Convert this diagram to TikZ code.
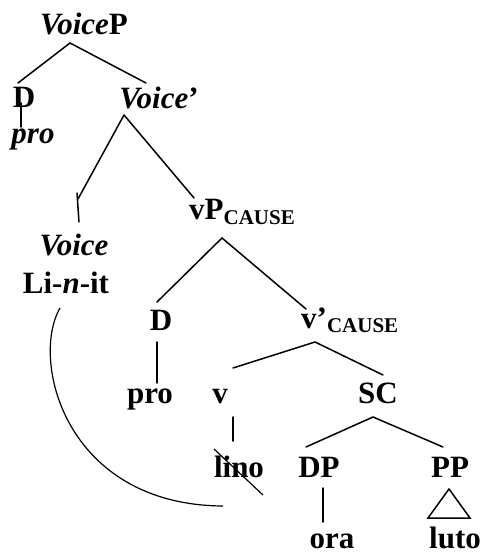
\documentclass[tikz,border=0pt]{standalone}
\usepackage{fontspec}
\setmainfont{Liberation Serif}
\tikzset{
  lbl/.style={inner sep=0pt, anchor=base, font=\fontsize{31}{36}\selectfont\bfseries},
  edge/.style={line width=1.5pt, line cap=round},
}
\newcommand{\subcause}[1]{\raisebox{#1}{\fontsize{21}{21}\selectfont CAUSE}}
\begin{document}
\begin{tikzpicture}[x=1pt,y=-1pt]
\useasboundingbox (0,0) rectangle (483,553);
% labels
\node[lbl] (voicep) at (84,35) {\textit{Voice}P};
\node[lbl] (d1) at (24,108) {D};
\node[lbl] (pro1) at (33,144) {\textit{pro}};
\node[lbl] (voicebar) at (159,109) {\textit{Voice}'};
\node[lbl] (voice) at (74,255) {\textit{Voice}};
\node[lbl] (linit) at (66,293) {Li-\textit{n}-it};
\node[lbl, anchor=base west] (vp) at (189,219) {vP\subcause{-5pt}};
\node[lbl] (d2) at (161,330) {D};
\node[lbl, anchor=base west] (vbar) at (301,328) {v'\subcause{-4pt}};
\node[lbl] (pro2) at (150,403) {pro};
\node[lbl] (v) at (220,403) {v};
\node[lbl] (sc) at (378,403) {SC};
\node[lbl] (lino) at (239,477) {lino};
\node[lbl] (dp) at (319,477) {DP};
\node[lbl] (pp) at (450,477) {PP};
\node[lbl] (ora) at (332,548) {ora};
\node[lbl] (luto) at (455,548) {luto};
% connector end points
\coordinate (voicep-b) at (70,43);
\coordinate (d1-t) at (18,83);
\coordinate (voicebar-t) at (146,83);
\coordinate (d1-b) at (21,103);
\coordinate (pro1-t) at (21,127);
\coordinate (voicebar-b) at (124,115);
\coordinate (kink) at (78,199);
\coordinate (voice-t1) at (77,193);
\coordinate (voice-t) at (79,222);
\coordinate (vp-t) at (194,198);
\coordinate (vp-b) at (222,238);
\coordinate (d2-t) at (157,302);
\coordinate (vbar-t) at (306,309);
\coordinate (d2-b) at (157,342);
\coordinate (pro2-t) at (157,383);
\coordinate (vbar-b) at (315,342);
\coordinate (v-t) at (233,368);
\coordinate (sc-t) at (383,375);
\coordinate (v-b) at (233,417);
\coordinate (lino-t) at (233,441);
\coordinate (sc-b) at (373,417);
\coordinate (dp-t) at (306,447);
\coordinate (pp-t) at (443,447);
\coordinate (dp-b) at (323,488);
\coordinate (ora-t) at (323,522);
\coordinate (tri-a) at (449,489);
\coordinate (tri-l) at (428,518);
\coordinate (tri-r) at (470,518);
\coordinate (strike-a) at (214,449);
\coordinate (strike-b) at (263,495);
\coordinate (linit-b) at (60,308);
\coordinate (trace) at (223,506);
% tree branches
\draw[edge] (d1-t) -- (voicep-b) -- (voicebar-t);
\draw[edge] (d1-b) -- (pro1-t);
\draw[edge] (voicebar-b) -- (kink);
\draw[edge] (voice-t1) -- (voice-t);
\draw[edge] (voicebar-b) -- (vp-t);
\draw[edge] (d2-t) -- (vp-b) -- (vbar-t);
\draw[edge] (d2-b) -- (pro2-t);
\draw[edge] (v-t) -- (vbar-b) -- (sc-t);
\draw[edge] (v-b) -- (lino-t);
\draw[edge] (dp-t) -- (sc-b) -- (pp-t);
\draw[edge] (dp-b) -- (ora-t);
\draw[edge, line join=miter] (tri-a) -- (tri-l) -- (tri-r) -- cycle;
\draw[line width=1.2pt] (strike-a) -- (strike-b);
\draw[line width=1.2pt] (linit-b) .. controls (30,360) and (65,505) .. (trace);
\end{tikzpicture}
\end{document}
